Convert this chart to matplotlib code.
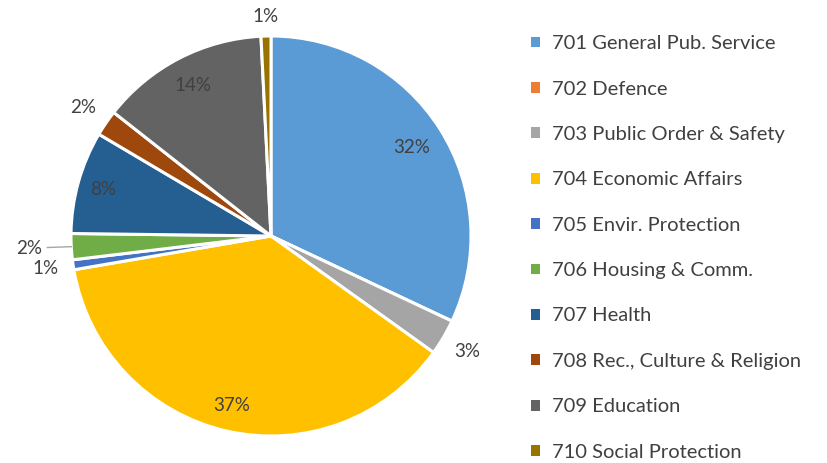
import numpy as np
import matplotlib
matplotlib.use("Agg")
from matplotlib import pyplot as plt
from matplotlib.patches import Patch

# shares of expenditure by function (%)
categories = ['701 General Pub. Service', '702 Defence', '703 Public Order & Safety',
              '704 Economic Affairs', '705 Envir. Protection', '706 Housing & Comm.',
              '707 Health', '708 Rec., Culture & Religion', '709 Education',
              '710 Social Protection']
shares = [32.0, 0.0, 2.9, 37.4, 0.8, 2.1, 8.3, 2.1, 13.6, 0.8]
colors = ['#5B9BD5', '#ED7D31', '#A5A5A5', '#FFC000', '#4472C4',
          '#70AD47', '#255E91', '#9E480E', '#636363', '#997300']
# label radius (fraction of pie radius) per slice; None = no label
label_r = [0.83, None, 1.14, 0.87, 1.14, 1.21, 0.87, 1.14, 0.85, 1.1]

plt.rcParams['font.family'] = ['Lato', 'DejaVu Sans']
W, H = 827, 463
fig = plt.figure(figsize=(W / 100, H / 100), dpi=100)

# pie centre at (271, 236) px, radius 200 px
cx, cy, R = 271, 236, 200
ax = fig.add_axes([(cx - 1.2 * R) / W, (H - cy - 1.2 * R) / H, 2.4 * R / W, 2.4 * R / H])

wedges, _ = ax.pie(shares, colors=colors, startangle=90, counterclock=False,
                   radius=1.0, wedgeprops=dict(edgecolor='white', linewidth=2.2))
ax.set_xlim(-1.2, 1.2)
ax.set_ylim(-1.2, 1.2)
ax.axis('off')

total = sum(shares)
start = 90.0
for val, r in zip(shares, label_r):
    ang = start - val / total * 360 / 2
    start -= val / total * 360
    if r is None:
        continue
    a = np.deg2rad(ang)
    ax.text(r * np.cos(a), r * np.sin(a), f'{round(val / total * 100):.0f}%',
            ha='center', va='center', fontsize=13.5, color='#404040')
    if r > 1.18:
        ax.plot([1.0 * np.cos(a), 1.12 * np.cos(a)], [1.0 * np.sin(a), 1.08 * np.sin(a)],
                color='#A6A6A6', lw=1, clip_on=False)

handles = [Patch(facecolor=c, edgecolor='none') for c in colors]
fig.legend(handles, categories, loc='upper left', bbox_to_anchor=(513 / W, 1 - 17 / H),
           frameon=False, fontsize=14.5, handlelength=0.45, handleheight=0.45,
           handletextpad=0.6, labelspacing=1.41, labelcolor='#404040')

fig.savefig('out.png', dpi=100, facecolor='white')
